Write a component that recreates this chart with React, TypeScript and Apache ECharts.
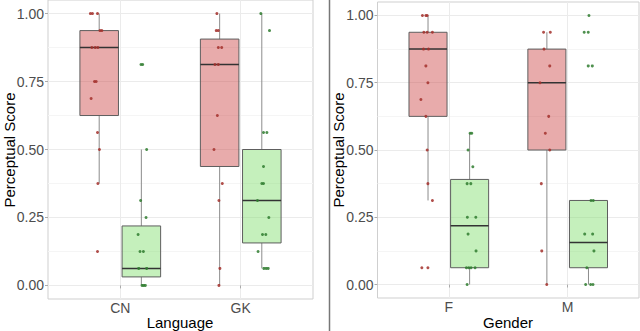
import React, { useEffect, useRef } from "react";
import * as echarts from "echarts";

// ---------- data ----------
const languageCategories = ["CN", "GK"];
const genderCategories = ["F", "M"];
const yTickValues = [0, 0.25, 0.5, 0.75, 1];
const yMinorValues = [0.125, 0.375, 0.625, 0.875];

// box stats: [lower whisker, Q1, median, Q3, upper whisker]
const languageRedBoxes = [
  [0.375, 0.625, 0.875, 0.9375, 1.0],
  [0.0, 0.4375, 0.8125, 0.90625, 1.0],
];
const languageGreenBoxes = [
  [0.0, 0.03125, 0.0625, 0.21875, 0.5],
  [0.0625, 0.15625, 0.3125, 0.5, 1.0],
];
const genderRedBoxes = [
  [0.3125, 0.625, 0.875, 0.9375, 1.0],
  [0.0, 0.5, 0.75, 0.875, 0.9375],
];
const genderGreenBoxes = [
  [0.0, 0.0625, 0.21875, 0.390625, 0.5625],
  [0.0, 0.0625, 0.15625, 0.3125, 0.3125],
];

// jittered points: [x offset from category, score]
const cnRedPoints = [[-0.248,1],[-0.231,1],[-0.189,1],[-0.169,0.9375],[-0.153,0.9375],[-0.236,0.875],[-0.208,0.875],[-0.186,0.875],[-0.214,0.75],[-0.2,0.75],[-0.242,0.6875],[-0.189,0.5625],[-0.173,0.5],[-0.186,0.375],[-0.189,0.125]];
const cnGreenPoints = [[0.172,0.8125],[0.186,0.8125],[0.219,0.5],[0.169,0.3125],[0.214,0.25],[0.148,0.1875],[0.164,0.125],[0.192,0.125],[0.153,0.0625],[0.219,0.0625],[0.181,0],[0.194,0],[0.208,0]];
const gkRedPoints = [[-0.198,1],[-0.203,0.9375],[-0.186,0.9375],[-0.186,0.875],[-0.158,0.875],[-0.214,0.8125],[-0.186,0.8125],[-0.194,0.625],[-0.222,0.5],[-0.153,0.375],[-0.181,0.3125],[-0.173,0.0625],[-0.181,0]];
const gkGreenPoints = [[0.167,1],[0.239,0.9375],[0.189,0.5625],[0.217,0.5625],[0.189,0.4375],[0.175,0.375],[0.189,0.375],[0.139,0.3125],[0.233,0.25],[0.181,0.1875],[0.208,0.1875],[0.144,0.125],[0.192,0.0625],[0.211,0.0625],[0.228,0.0625]];
const fRedPoints = [[-0.222,1],[-0.193,1],[-0.182,1],[-0.21,0.9375],[-0.182,0.9375],[-0.138,0.9375],[-0.213,0.875],[-0.171,0.875],[-0.193,0.8125],[-0.176,0.75],[-0.235,0.6875],[-0.193,0.625],[-0.182,0.5],[-0.176,0.375],[-0.138,0.3125],[-0.227,0.0625],[-0.176,0.0625]];
const fGreenPoints = [[0.179,0.5625],[0.193,0.5625],[0.162,0.5],[0.202,0.4375],[0.154,0.375],[0.185,0.375],[0.156,0.25],[0.227,0.25],[0.162,0.1875],[0.229,0.125],[0.148,0.0625],[0.168,0.0625],[0.187,0.0625],[0.221,0.0625],[0.154,0]];
const mRedPoints = [[-0.203,0.9375],[-0.146,0.9375],[-0.199,0.875],[-0.151,0.8125],[-0.233,0.75],[-0.16,0.625],[-0.188,0.5625],[-0.151,0.5],[-0.222,0.375],[-0.218,0.125],[-0.176,0]];
const mGreenPoints = [[0.179,1],[0.139,0.9375],[0.173,0.9375],[0.173,0.8125],[0.207,0.8125],[0.196,0.3125],[0.215,0.3125],[0.143,0.1875],[0.21,0.1875],[0.221,0.125],[0.161,0.0625],[0.151,0],[0.193,0],[0.213,0]];

// ---------- styles ----------
const DODGE = 0.175;
const HALF_W = 0.16;
const RED_FILL = "rgba(205, 68, 68, 0.45)";
const GREEN_FILL = "rgba(120, 220, 100, 0.43)";
const RED_PT = "#a3302c";
const GREEN_PT = "#2f7d2f";
const FONT = "Liberation Sans, Arial, sans-serif";

function boxSeries(boxes: number[][], side: number, fill: string, idx: number) {
  return {
    type: "custom",
    xAxisIndex: idx,
    yAxisIndex: idx,
    z: 2,
    silent: true,
    encode: { x: 0, y: [1, 2, 3, 4, 5] },
    data: boxes.map((b, i) => [i + 1 + side * DODGE, ...b]),
    renderItem: (params: any, api: any) => {
      const x = api.value(0);
      const lo = api.value(1), q1 = api.value(2), med = api.value(3), q3 = api.value(4), hi = api.value(5);
      const tl = api.coord([x - HALF_W, q3]);
      const br = api.coord([x + HALF_W, q1]);
      const ml = api.coord([x - HALF_W, med]);
      const mr = api.coord([x + HALF_W, med]);
      const pHi = api.coord([x, hi]);
      const pQ3 = api.coord([x, q3]);
      const pQ1 = api.coord([x, q1]);
      const pLo = api.coord([x, lo]);
      return {
        type: "group",
        children: [
          { type: "line", shape: { x1: pHi[0], y1: pHi[1], x2: pQ3[0], y2: pQ3[1] }, style: { stroke: "#8c8c8c", lineWidth: 1 } },
          { type: "line", shape: { x1: pQ1[0], y1: pQ1[1], x2: pLo[0], y2: pLo[1] }, style: { stroke: "#8c8c8c", lineWidth: 1 } },
          { type: "rect", shape: { x: tl[0], y: tl[1], width: br[0] - tl[0], height: br[1] - tl[1] }, style: { fill, stroke: "#5e5e5e", lineWidth: 1 } },
          { type: "line", shape: { x1: ml[0], y1: ml[1], x2: mr[0], y2: mr[1] }, style: { stroke: "#333333", lineWidth: 1.5 } },
        ],
      };
    },
  };
}

function pointSeries(groups: number[][][], color: string, idx: number) {
  const data: number[][] = [];
  groups.forEach((pts, gi) => pts.forEach(([j, v]) => data.push([gi + 1 + j, v])));
  return {
    type: "scatter",
    xAxisIndex: idx,
    yAxisIndex: idx,
    z: 3,
    silent: true,
    symbolSize: 3,
    itemStyle: { color, opacity: 0.85 },
    data,
  };
}

function xAxis(cats: string[], idx: number) {
  return {
    type: "value",
    gridIndex: idx,
    min: 0.4,
    max: 2.6,
    axisLine: { show: false },
    axisTick: { show: true, length: 3, lineStyle: { color: "#aaaaaa" }, customValues: [1, 2] },
    axisLabel: {
      customValues: [1, 2],
      formatter: (v: number) => cats[Math.round(v) - 1] ?? "",
      color: "#4d4d4d",
      fontSize: 14,
      fontFamily: FONT,
      margin: 2,
    },
    splitLine: { show: true, lineStyle: { color: "#ebebeb", width: 1 } },
  };
}

function yAxis(idx: number) {
  return {
    type: "value",
    gridIndex: idx,
    min: -0.05,
    max: 1.05,
    axisLine: { show: false },
    axisTick: { show: true, length: 3, lineStyle: { color: "#aaaaaa" }, customValues: yTickValues },
    axisLabel: {
      customValues: yTickValues,
      formatter: (v: number) => v.toFixed(2),
      color: "#4d4d4d",
      fontSize: 14,
      fontFamily: FONT,
      margin: 4,
    },
    splitLine: { show: true, lineStyle: { color: "#ebebeb", width: 1 } },
  };
}

// hidden axis that only draws the faint minor grid lines
function yMinorAxis(idx: number) {
  return {
    type: "value",
    gridIndex: idx,
    position: "right",
    min: -0.05,
    max: 1.05,
    axisLine: { show: false },
    axisTick: { show: false, customValues: yMinorValues },
    axisLabel: { show: false, customValues: yMinorValues },
    splitLine: { show: true, lineStyle: { color: "#f5f5f5", width: 1 } },
  };
}

export default function App() {
  const ref = useRef<HTMLDivElement>(null);
  useEffect(() => {
    if (!ref.current) return;
    const chart = echarts.init(ref.current, undefined, { renderer: "svg" });
    chart.setOption({
      animation: false,
      backgroundColor: "#ffffff",
      grid: [
        { left: 48, top: 0, width: 265, height: 299, show: true, borderColor: "#cfcfcf", borderWidth: 1, backgroundColor: "transparent" },
        { left: 377.5, top: 2, width: 261.5, height: 296, show: true, borderColor: "#cfcfcf", borderWidth: 1, backgroundColor: "transparent" },
      ],
      xAxis: [xAxis(languageCategories, 0), xAxis(genderCategories, 1)],
      yAxis: [yAxis(0), yAxis(1), yMinorAxis(0), yMinorAxis(1)],
      series: [
        boxSeries(languageRedBoxes, -1, RED_FILL, 0),
        boxSeries(languageGreenBoxes, 1, GREEN_FILL, 0),
        pointSeries([cnRedPoints, gkRedPoints], RED_PT, 0),
        pointSeries([cnGreenPoints, gkGreenPoints], GREEN_PT, 0),
        boxSeries(genderRedBoxes, -1, RED_FILL, 1),
        boxSeries(genderGreenBoxes, 1, GREEN_FILL, 1),
        pointSeries([fRedPoints, mRedPoints], RED_PT, 1),
        pointSeries([fGreenPoints, mGreenPoints], GREEN_PT, 1),
      ],
      graphic: [
        { type: "line", shape: { x1: 329.5, y1: 0, x2: 329.5, y2: 331 }, style: { stroke: "#777777", lineWidth: 1.5 } },
        { type: "text", x: 9, y: 150, rotation: Math.PI / 2, style: { text: "Perceptual Score", fontSize: 15, fontFamily: FONT, fill: "#000", align: "center", verticalAlign: "middle" } },
        { type: "text", x: 338.5, y: 150, rotation: Math.PI / 2, style: { text: "Perceptual Score", fontSize: 15, fontFamily: FONT, fill: "#000", align: "center", verticalAlign: "middle" } },
        { type: "text", x: 180, y: 322, style: { text: "Language", fontSize: 15, fontFamily: FONT, fill: "#000", align: "center", verticalAlign: "middle" } },
        { type: "text", x: 508, y: 322, style: { text: "Gender", fontSize: 15, fontFamily: FONT, fill: "#000", align: "center", verticalAlign: "middle" } },
      ],
    });
    return () => chart.dispose();
  }, []);
  return <div ref={ref} style={{ position: "absolute", left: 0, top: 0, width: 640, height: 331 }} />;
}
